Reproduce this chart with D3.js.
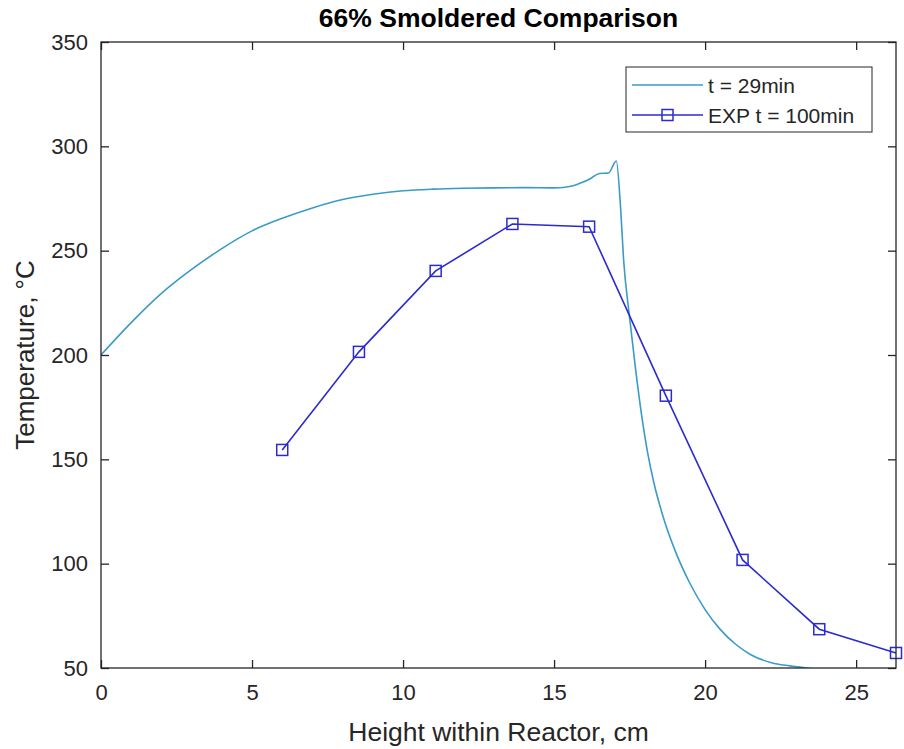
<!DOCTYPE html>
<html>
<head>
<meta charset="utf-8">
<script src="https://cdn.jsdelivr.net/npm/d3@7"></script>
<style>
  body { margin: 0; background: #fff; }
  text { font-family: "Liberation Sans", Arial, sans-serif; fill: #262626; }
</style>
</head>
<body>
<svg id="chart" width="904" height="749"></svg>
<script>
// model profile, t = 29min
const modelX = [0, 1, 2, 3, 4, 5, 6, 7, 8, 9, 10, 11, 12, 13, 14, 15, 15.3, 15.6, 15.9, 16.2, 16.5, 16.8, 17.06,
    17.2, 17.3, 17.5, 17.7, 17.9, 18.1, 18.3, 18.6, 19.0, 19.5, 20.0, 20.5, 21.0, 21.5, 22.2, 22.8, 23.4, 24.0];
const modelT = [200, 215.5, 229.5, 241, 251, 259.5, 265.5, 270.5, 274.5, 277, 278.7, 279.5, 279.9, 280.1, 280.2, 280.1, 280.3, 281, 282.5, 284.5, 287, 287.2, 293,
    271, 246, 218, 193, 171, 153, 139, 123, 106.5, 90.5, 78, 68.5, 61.5, 56.5, 52.5, 51, 49.9, 49];

// experiment, t = 100min
const expX = [6, 8.54, 11.08, 13.62, 16.16, 18.7, 21.24, 23.78, 26.32];
const expT = [154.5, 201.5, 240.3, 262.8, 261.5, 180.5, 101.8, 68.6, 57.2];

const xTicks = [0, 5, 10, 15, 20, 25];
const yTicks = [50, 100, 150, 200, 250, 300, 350];
const legendLabels = ["t = 29min", "EXP t = 100min"];

const svg = d3.select("svg#chart");
const margin = {top: 42, right: 8, bottom: 81, left: 101};
const width = +svg.attr("width") - margin.left - margin.right;
const height = +svg.attr("height") - margin.top - margin.bottom;

const modelColor = "#3a9bc8";
const expColor = "#2b2bd0";
const axisColor = "#262626";

const x = d3.scaleLinear().domain([0, 26.32]).range([0, width]);
const y = d3.scaleLinear().domain([50, 350]).range([height, 0]);

const g = svg.append("g").attr("transform", `translate(${margin.left},${margin.top})`);

g.append("clipPath").attr("id", "clip")
    .append("rect").attr("width", width).attr("height", height);

// lines
const modelLine = d3.line()
    .x(d => x(d[0]))
    .y(d => y(d[1]))
    .curve(d3.curveMonotoneX);

g.append("path")
    .datum(modelX.map((v, i) => [v, modelT[i]]))
    .attr("clip-path", "url(#clip)")
    .attr("d", modelLine)
    .style("fill", "none")
    .style("stroke", modelColor)
    .style("stroke-width", 1.6);

const expData = expX.map((v, i) => [v, expT[i]]);

g.append("path")
    .datum(expData)
    .attr("d", d3.line().x(d => x(d[0])).y(d => y(d[1])))
    .style("fill", "none")
    .style("stroke", expColor)
    .style("stroke-width", 1.6);

g.selectAll("rect.marker")
    .data(expData)
    .enter().append("rect")
    .attr("class", "marker")
    .attr("x", d => x(d[0]) - 5.5)
    .attr("y", d => y(d[1]) - 5.5)
    .attr("width", 11)
    .attr("height", 11)
    .style("fill", "none")
    .style("stroke", expColor)
    .style("stroke-width", 1.5);

// axes, ticks inside on all four sides
const tickLen = 8;
const styleAxis = sel => {
    sel.select(".domain").remove();
    sel.selectAll(".tick line").style("stroke", axisColor).style("stroke-width", 1.3);
    sel.selectAll(".tick text").style("font-size", "22px").style("fill", axisColor);
};

g.append("g").attr("transform", `translate(0,${height})`)
    .call(d3.axisBottom(x).tickValues(xTicks).tickSize(-tickLen).tickPadding(16))
    .call(styleAxis);
g.append("g")
    .call(d3.axisTop(x).tickValues(xTicks).tickSize(-tickLen).tickFormat(""))
    .call(styleAxis);
g.append("g")
    .call(d3.axisLeft(y).tickValues(yTicks).tickSize(-tickLen).tickPadding(13))
    .call(styleAxis);
g.append("g").attr("transform", `translate(${width},0)`)
    .call(d3.axisRight(y).tickValues(yTicks).tickSize(-tickLen).tickFormat(""))
    .call(styleAxis);

g.append("rect")
    .attr("width", width).attr("height", height)
    .style("fill", "none")
    .style("stroke", axisColor)
    .style("stroke-width", 1.3);

// labels
svg.append("text")
    .attr("x", margin.left + width / 2).attr("y", 27)
    .attr("text-anchor", "middle")
    .style("font-size", "26.5px").style("font-weight", "bold")
    .style("fill", "#000")
    .text("66% Smoldered Comparison");

svg.append("text")
    .attr("x", margin.left + width / 2).attr("y", 741)
    .attr("text-anchor", "middle")
    .style("font-size", "26.5px")
    .text("Height within Reactor, cm");

svg.append("text")
    .attr("transform", `translate(34,${margin.top + height / 2}) rotate(-90)`)
    .attr("text-anchor", "middle")
    .style("font-size", "26px")
    .text("Temperature, \u00B0C");

// legend
const legend = svg.append("g").attr("transform", "translate(626,67)");
legend.append("rect")
    .attr("width", 246).attr("height", 65)
    .style("fill", "#fff")
    .style("stroke", axisColor)
    .style("stroke-width", 1);

[modelColor, expColor].forEach((c, i) => {
    const ly = 18 + i * 30;
    legend.append("line")
        .attr("x1", 6).attr("x2", 77).attr("y1", ly).attr("y2", ly)
        .style("stroke", c).style("stroke-width", 1.6);
    if (i === 1) {
        legend.append("rect")
            .attr("x", 41.5 - 5.5).attr("y", ly - 5.5)
            .attr("width", 11).attr("height", 11)
            .style("fill", "none").style("stroke", c).style("stroke-width", 1.5);
    }
    legend.append("text")
        .attr("x", 82).attr("y", ly + 7.5)
        .style("font-size", "21px")
        .text(legendLabels[i]);
});
</script>
</body>
</html>
